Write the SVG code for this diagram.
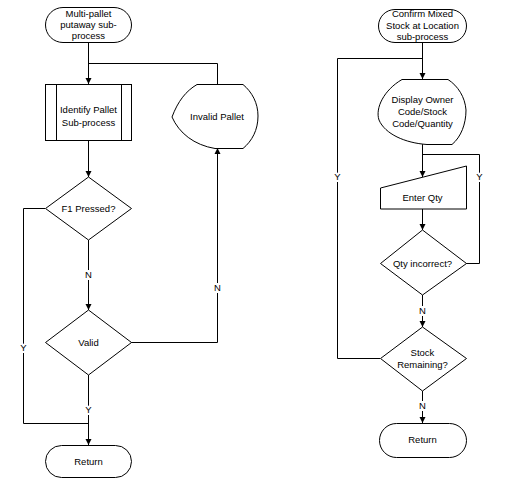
<svg xmlns="http://www.w3.org/2000/svg" width="510" height="499" viewBox="0 0 510 499">
<defs>
<style>
.s{fill:#fff;stroke:#000;stroke-width:1}
.c{fill:none;stroke:#000;stroke-width:1}
text{font-family:"Liberation Sans",Arial,sans-serif;font-size:9.5px;fill:#000;text-anchor:middle}
.lb{stroke:#fff;stroke-width:4;paint-order:stroke}
</style>
<marker id="ah" markerUnits="userSpaceOnUse" markerWidth="8" markerHeight="7" refX="3.5" refY="6" orient="auto-start-reverse" viewBox="0 0 7 7">
<path d="M0,0 L7,0 L3.5,6 Z" fill="#000" transform="rotate(-90 3.5 3.5)"/>
</marker>
<marker id="a" markerUnits="userSpaceOnUse" markerWidth="8" markerHeight="8" refX="6" refY="4" orient="auto" viewBox="0 0 8 8">
<path d="M0,1 L6,4 L0,7 Z" fill="#000"/>
</marker>
</defs>
<rect width="510" height="499" fill="#fff"/>

<g id="connectors">
<path class="c" d="M88.5,42 V84" marker-end="url(#a)"/>
<path class="c" d="M217.5,84 V63.5 H88.5"/>
<path class="c" d="M88.5,140 V177" marker-end="url(#a)"/>
<path class="c" d="M45,208.5 H23.5 V423.5 H88.5"/>
<path class="c" d="M88.5,240 V310" marker-end="url(#a)"/>
<path class="c" d="M131,342.5 H217.5 V148" marker-end="url(#a)"/>
<path class="c" d="M88.5,375 V445" marker-end="url(#a)"/>

<path class="c" d="M422.5,42 V79" marker-end="url(#a)"/>
<path class="c" d="M380,358.5 H337.5 V58.5 H422.5"/>
<path class="c" d="M422.5,144 V177" marker-end="url(#a)"/>
<path class="c" d="M466,263.5 H479.5 V154.5 H422.5"/>
<path class="c" d="M422.5,209 V230" marker-end="url(#a)"/>
<path class="c" d="M422.5,295 V327" marker-end="url(#a)"/>
<path class="c" d="M422.5,391 V423" marker-end="url(#a)"/>

<text class="lb" x="88.5" y="278">N</text>
<text class="lb" x="217.5" y="291">N</text>
<text class="lb" x="23.5" y="351">Y</text>
<text class="lb" x="88.5" y="413">Y</text>
<text class="lb" x="337.5" y="180">Y</text>
<text class="lb" x="479.5" y="180">Y</text>
<text class="lb" x="422.5" y="314">N</text>
<text class="lb" x="422.5" y="409">N</text>
</g>

<g id="start-left">
<rect class="s" x="45.5" y="7.5" width="86" height="35" rx="17.5"/>
<text x="88.5" y="16.5">Multi-pallet</text>
<text x="88.5" y="28">putaway sub-</text>
<text x="88.5" y="39">process</text>
</g>

<g id="identify-pallet">
<rect class="s" x="45.5" y="84.5" width="86" height="56"/>
<path class="c" d="M56.5,84.5 V140.5 M121.5,84.5 V140.5"/>
<text x="88.5" y="113">Identify Pallet</text>
<text x="88.5" y="125.5">Sub-process</text>
</g>

<g id="invalid-pallet">
<path class="s" d="M197,84.5 H243 C252,92 258,103 258,116 C258,130 252,141 243,148.5 H215 C194,145 179,133 172,117 C178,101 186,91 197,84.5 Z"/>
<text x="217" y="120">Invalid Pallet</text>
</g>

<g id="f1-pressed">
<path class="s" d="M88.5,177 L131.5,208.5 L88.5,240 L45.5,208.5 Z"/>
<text x="88.5" y="212">F1 Pressed?</text>
</g>

<g id="valid">
<path class="s" d="M88.5,310 L131.5,342.5 L88.5,375 L45.5,342.5 Z"/>
<text x="88.5" y="345.5">Valid</text>
</g>

<g id="return-left">
<rect class="s" x="45.5" y="445.5" width="86" height="32" rx="16"/>
<text x="88.5" y="464.5">Return</text>
</g>

<g id="start-right">
<rect class="s" x="378.5" y="9.5" width="88" height="33" rx="16.5"/>
<text x="422.5" y="17">Confirm Mixed</text>
<text x="422.5" y="28.5">Stock at Location</text>
<text x="422.5" y="39.5">sub-process</text>
</g>

<g id="display-owner">
<path class="s" d="M402,79.5 H448 C458,86 465,97 466,110 C466,124 461,137 452,144.5 H427 C405,143 385,134 379,120 C375,108 384,90 402,79.5 Z"/>
<text x="422.5" y="103">Display Owner</text>
<text x="422.5" y="115">Code/Stock</text>
<text x="422.5" y="127">Code/Quantity</text>
</g>

<g id="enter-qty">
<path class="s" d="M380.5,188 L466.5,166 V209 H380.5 Z"/>
<text x="422.5" y="201">Enter Qty</text>
</g>

<g id="qty-incorrect">
<path class="s" d="M422.5,230 L466.5,263.5 L422.5,295 L380.5,263.5 Z"/>
<text x="422.5" y="267">Qty incorrect?</text>
</g>

<g id="stock-remaining">
<path class="s" d="M422.5,327 L466.5,358.5 L422.5,391 L380.5,358.5 Z"/>
<text x="422.5" y="356">Stock</text>
<text x="422.5" y="367.5">Remaining?</text>
</g>

<g id="return-right">
<rect class="s" x="379.5" y="423.5" width="87" height="34" rx="17"/>
<text x="422.5" y="442.5">Return</text>
</g>
</svg>
